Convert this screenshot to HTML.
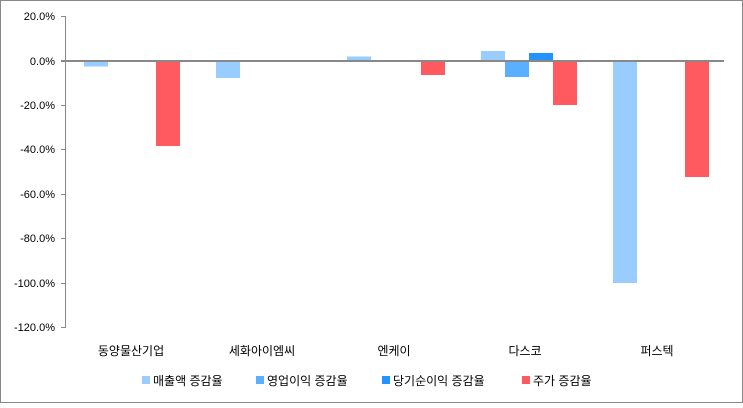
<!DOCTYPE html><html><head><style>body{margin:0;background:#fff}</style></head><body>
<svg width="743" height="403" xmlns="http://www.w3.org/2000/svg" font-family="Liberation Sans, Noto Sans CJK KR, sans-serif">
<rect x="0.5" y="0.5" width="742" height="402" fill="#fff" stroke="#888"/>
<g font-size="11" fill="#000" text-anchor="end">
<text x="55" y="20">20.0%</text><text x="55" y="65">0.0%</text><text x="55" y="109">-20.0%</text><text x="55" y="153">-40.0%</text><text x="55" y="198">-60.0%</text><text x="55" y="242">-80.0%</text><text x="55" y="287">-100.0%</text><text x="55" y="331">-120.0%</text>
</g>
<g stroke="#888" stroke-width="1">
<line x1="65.5" y1="16" x2="65.5" y2="328"/>
<line x1="61" y1="16.5" x2="65" y2="16.5"/><line x1="61" y1="105.5" x2="65" y2="105.5"/><line x1="61" y1="149.5" x2="65" y2="149.5"/><line x1="61" y1="194.5" x2="65" y2="194.5"/><line x1="61" y1="238.5" x2="65" y2="238.5"/><line x1="61" y1="283.5" x2="65" y2="283.5"/><line x1="61" y1="327.5" x2="65" y2="327.5"/>
</g>
<g fill="#99CCFF">
<rect x="84" y="61" width="24" height="5.5"/><rect x="216" y="61" width="24" height="17"/><rect x="347" y="56.5" width="24" height="4.5"/><rect x="481" y="51" width="24" height="10"/><rect x="613" y="61" width="24" height="222"/>
</g>
<rect x="505" y="61" width="24" height="16" fill="#5AAFFF"/>
<rect x="529" y="53" width="24" height="8" fill="#2394FF"/>
<g fill="#FF5A5F">
<rect x="156" y="61" width="24" height="85"/><rect x="421" y="61" width="24" height="14"/><rect x="553" y="61" width="24" height="44"/><rect x="685" y="61" width="24" height="116"/>
</g>
<line x1="61" y1="61" x2="724" y2="61" stroke="#888" stroke-width="2"/>
<g font-size="12" text-anchor="middle">
<text x="131" y="355">동양물산기업</text><text x="262" y="355">세화아이엠씨</text><text x="394" y="355">엔케이</text><text x="525" y="355">다스코</text><text x="657" y="355">퍼스텍</text>
</g>
<g font-size="12">
<rect x="142" y="376" width="8" height="8" fill="#99CCFF"/><text x="153" y="385">매출액 증감율</text>
<rect x="256" y="376" width="8" height="8" fill="#5AAFFF"/><text x="267" y="385">영업이익 증감율</text>
<rect x="382" y="376" width="8" height="8" fill="#2394FF"/><text x="393" y="385">당기순이익 증감율</text>
<rect x="522" y="376" width="8" height="8" fill="#FF5A5F"/><text x="533" y="385">주가 증감율</text>
</g>
</svg></body></html>
